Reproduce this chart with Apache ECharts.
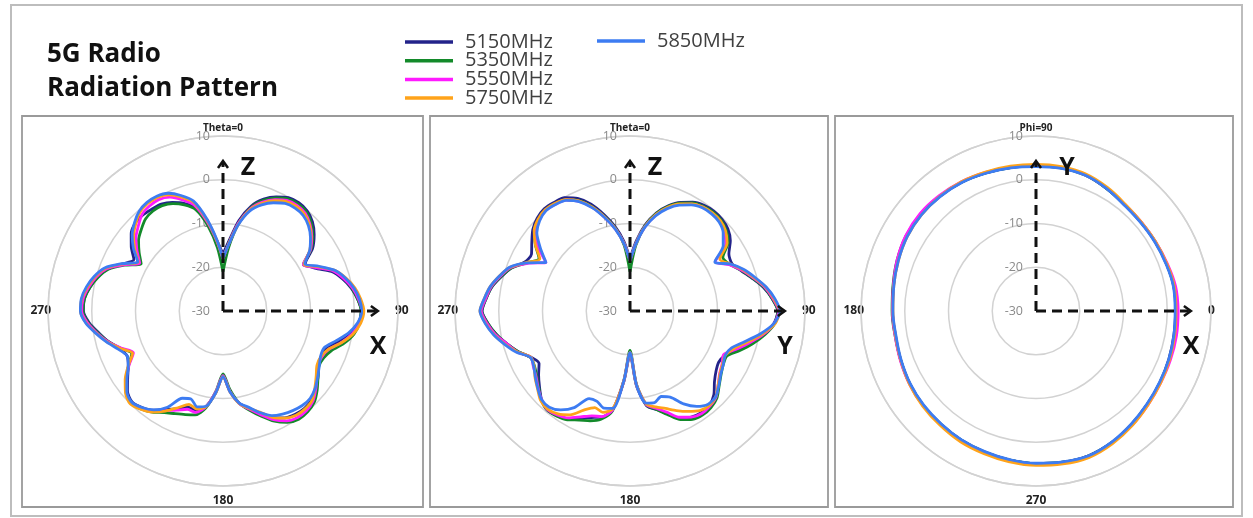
<!DOCTYPE html>
<html>
<head>
<meta charset="utf-8">
<script src="https://cdn.jsdelivr.net/npm/echarts@6/dist/echarts.min.js"></script>
<style>
html,body{margin:0;padding:0;background:#fff;}
#chart{width:1253px;height:518px;}
</style>
</head>
<body>
<div id="chart"></div>
<script>
// ---------- DATA ----------
const seriesNames = ['5150MHz', '5350MHz', '5550MHz', '5750MHz', '5850MHz'];
const seriesColors = ['#23238a', '#138a2a', '#ff1aff', '#ffa31a', '#3d7cf2'];

const panelTitles = ['Theta=0', 'Theta=0', 'Phi=90'];
const radiusTicks = [-30, -20, -10, 0, 10];

// Panel 1 (XZ cut), angles 0..360 step 5, clockwise from top
const anglesXZ = [0,5,10,15,20,25,30,35,40,45,50,55,60,65,70,75,80,85,90,95,100,105,110,115,120,125,130,135,140,145,150,155,160,165,170,175,180,185,190,195,200,205,210,215,220,225,230,235,240,245,250,255,260,265,270,275,280,285,290,295,300,305,310,315,320,325,330,335,340,345,350,355,360];
const xz5150 = [-17,-13.8,-9.0,-5.2,-2.8,-1.2,-0.1,0.2,-0.1,-1.1,-2.8,-5.0,-8.3,-6.8,-3.6,-1.7,-0.2,0.9,1.6,1.1,-0.4,-2.8,-4.8,-5.3,-4.8,-3.5,-2.3,-1.3,-1.0,-1.2,-1.8,-3.2,-5.2,-7.0,-8.6,-11.5,-15.0,-11.3,-7.9,-6.5,-6.6,-5.4,-4.0,-2.3,-1.2,-0.6,-1.5,-3.4,-5.0,-5.8,-4.8,-2.9,-1.2,0.7,1.9,1.8,0.9,-0.3,-2.0,-4.6,-6.5,-4.4,-2.6,-1.6,-1.4,-1.6,-1.8,-2.6,-3.8,-5.6,-9.6,-13.8,-17];
const xz5350 = [-21,-15.5,-9.9,-5.6,-3.1,-1.5,-0.4,-0.1,-0.4,-1.5,-3.2,-5.4,-8.8,-6.4,-3.1,-1.4,-0.1,0.9,1.6,1.3,0.4,-1.4,-3.6,-4.6,-4.7,-3.5,-1.9,-0.5,0.1,0.2,-0.6,-2.2,-4.4,-6.5,-8.6,-12.0,-15.6,-11.6,-7.5,-5.4,-4.8,-4.1,-3.2,-1.8,-0.8,-0.2,-1.1,-3.0,-5.1,-7.0,-5.1,-2.9,-1.0,0.9,2.0,1.8,0.9,-0.4,-2.1,-5.2,-8.4,-6.6,-4.8,-3.6,-2.5,-2.1,-2.2,-2.9,-4.2,-6.0,-10.2,-15.5,-21];
const xz5550 = [-18,-14.5,-9.6,-5.8,-3.5,-1.9,-0.8,-0.5,-0.8,-1.9,-3.5,-5.6,-8.8,-6.5,-3.2,-1.4,0.1,1.1,1.8,1.3,0.0,-2.0,-4.3,-5.1,-5.0,-3.8,-2.3,-0.9,-0.3,-0.3,-1.0,-2.6,-4.8,-6.8,-8.5,-11.5,-15.2,-11.5,-7.8,-6.0,-6.1,-5.0,-3.7,-2.0,-0.9,-0.2,-1.2,-3.0,-5.2,-7.4,-5.2,-2.8,-0.8,1.1,2.3,2.1,1.2,0.0,-1.7,-5.0,-8.0,-6.0,-4.0,-2.6,-1.2,-0.7,-0.6,-1.3,-3.0,-5.0,-9.3,-14.0,-18];
const xz5750 = [-18,-14.4,-9.8,-6.0,-3.8,-2.2,-1.1,-0.8,-1.1,-2.1,-3.7,-5.8,-8.6,-6.0,-2.8,-0.9,0.6,1.6,2.2,1.6,0.2,-2.0,-4.4,-5.3,-5.2,-4.0,-2.6,-1.2,-0.8,-0.9,-1.7,-3.2,-5.4,-7.0,-8.5,-11.4,-15.0,-11.2,-7.8,-6.8,-7.3,-5.6,-3.6,-1.8,-0.7,0.0,-0.9,-2.7,-5.0,-7.2,-5.0,-2.6,-0.6,1.4,2.6,2.4,1.5,0.3,-1.4,-4.6,-7.6,-5.4,-3.3,-1.8,-0.5,0.0,0.0,-0.7,-2.3,-4.3,-8.9,-13.8,-18];
const xz5850 = [-18,-14.6,-10.0,-6.3,-4.2,-2.7,-1.6,-1.3,-1.5,-2.4,-3.9,-5.8,-8.4,-5.8,-2.8,-1.0,0.4,1.3,1.7,0.9,-0.9,-3.4,-5.4,-5.4,-4.6,-3.6,-2.5,-1.8,-1.8,-2.2,-2.8,-3.6,-5.3,-7.2,-8.6,-11.4,-15.0,-11.3,-7.9,-7.3,-8.6,-8.0,-4.6,-2.4,-1.2,-0.5,-1.3,-3.2,-5.0,-5.8,-4.5,-2.5,-0.5,1.5,2.6,2.5,1.7,0.5,-1.2,-4.4,-7.5,-5.0,-2.9,-1.4,-0.2,0.3,0.3,-0.3,-1.9,-4.0,-8.6,-13.6,-18];

// Panel 2 (YZ cut), angles 0..360 step 5, clockwise from top
const anglesYZ = anglesXZ.slice();
const yz5150 = [-18,-14.0,-10.0,-6.8,-4.4,-2.6,-1.3,-0.5,-0.2,-0.3,-0.8,-2.0,-3.9,-4.3,-3.0,-1.1,1.0,2.6,3.8,3.0,0.9,-1.6,-4.0,-6.0,-6.6,-6.0,-4.8,-2.9,-1.8,-1.6,-2.0,-3.0,-5.0,-6.7,-8.0,-12.8,-20.0,-13.8,-7.0,-4.9,-4.1,-3.0,-1.6,-0.8,-0.5,-1.4,-3.0,-4.5,-6.0,-5.0,-2.8,-0.9,1.0,2.6,3.8,3.0,2.0,0.4,-1.2,-3.5,-4.0,-2.6,-1.0,0.0,0.5,0.3,-0.1,-1.6,-4.0,-7.2,-10.4,-14.0,-18];
const yz5350 = [-21,-15.0,-10.3,-7.0,-4.6,-2.8,-1.5,-0.8,-0.5,-0.6,-1.3,-2.6,-5.5,-4.8,-2.9,-1.0,1.1,2.6,3.8,3.2,1.3,-1.0,-3.4,-5.6,-5.4,-4.6,-3.4,-1.9,-1.2,-1.0,-1.4,-2.6,-4.8,-6.7,-8.1,-13.2,-21.0,-14.2,-6.8,-4.4,-3.3,-2.5,-1.3,-0.7,-0.5,-1.3,-2.8,-4.0,-4.8,-4.9,-2.8,-0.9,1.0,2.6,3.9,3.0,2.1,0.5,-1.2,-4.0,-6.0,-3.6,-1.5,-0.4,0.1,-0.1,-0.6,-2.1,-4.6,-7.7,-10.8,-15.0,-21];
const yz5550 = [-18.5,-14.5,-10.5,-7.3,-4.9,-3.1,-1.8,-1.0,-0.8,-0.9,-1.8,-3.3,-7.5,-5.0,-2.8,-0.8,1.3,2.8,4.0,3.1,0.9,-1.8,-4.3,-6.4,-5.7,-5.0,-3.7,-2.2,-1.6,-1.4,-2.0,-3.2,-5.4,-7.0,-8.2,-13.0,-20.5,-14.0,-7.0,-5.0,-4.5,-3.3,-1.8,-1.0,-0.6,-1.4,-2.6,-3.8,-4.5,-5.0,-2.6,-0.9,1.2,2.8,4.0,3.1,2.2,0.7,-1.0,-4.2,-7.8,-4.3,-1.8,-0.6,0.0,-0.2,-0.7,-2.3,-4.8,-7.9,-11.0,-14.5,-18.5];
const yz5750 = [-18.5,-14.5,-10.4,-7.2,-4.8,-3.0,-1.7,-1.0,-0.7,-0.8,-1.5,-2.9,-6.3,-4.6,-2.5,-0.6,1.5,3.0,4.2,3.3,0.6,-2.3,-4.8,-6.0,-5.6,-4.9,-3.7,-2.3,-1.8,-2.2,-3.5,-4.9,-6.3,-7.3,-8.4,-13.0,-20.5,-14.0,-7.3,-6.0,-6.5,-5.0,-2.6,-1.3,-0.7,-1.1,-2.4,-3.5,-4.7,-5.0,-2.6,-0.5,1.5,3.1,4.3,3.4,2.4,0.9,-0.8,-3.8,-6.2,-3.6,-1.4,-0.3,0.2,0.0,-0.6,-2.2,-4.7,-7.8,-10.9,-14.5,-18.5];
const yz5850 = [-18.5,-14.6,-10.6,-7.5,-5.1,-3.3,-2.0,-1.2,-1.0,-1.2,-2.2,-4.0,-7.6,-4.6,-2.3,-0.4,1.6,3.2,4.3,3.0,0.2,-2.9,-5.3,-6.0,-5.4,-4.7,-3.5,-2.3,-2.2,-3.4,-5.5,-8.3,-9.2,-8.3,-8.6,-13.0,-20.5,-14.0,-7.4,-7.0,-8.0,-7.9,-4.5,-2.4,-1.3,-1.4,-2.5,-3.6,-4.6,-4.9,-2.4,-0.4,1.6,3.2,4.3,3.4,2.4,0.9,-0.7,-4.0,-7.8,-5.0,-2.2,-0.8,-0.1,-0.3,-0.8,-2.4,-4.9,-8.0,-11.1,-14.6,-18.5];

// Panel 3 (XY cut, Phi), angles 0..360 step 10, counter-clockwise from +X
const anglesXY = [0,10,20,30,40,50,60,70,80,90,100,110,120,130,140,150,160,170,180,190,200,210,220,230,240,250,260,270,280,290,300,310,320,330,340,350,360];
const xy5150 = [1.9,2.0,1.7,1.5,1.4,1.6,2.3,3.1,3.2,3.1,3.3,3.6,4.0,4.2,4.3,4.1,3.6,3.1,2.8,2.6,2.9,3.3,3.6,3.8,4.1,4.3,4.6,4.9,5.1,5.2,4.7,3.9,3.2,2.7,2.3,2.0,1.9];
const xy5350 = [2.0,2.0,1.7,1.5,1.4,1.6,2.3,3.0,3.2,3.1,3.3,3.6,4.0,4.3,4.4,4.3,3.8,3.2,2.9,2.7,2.9,3.3,3.6,3.8,4.1,4.3,4.6,4.9,5.1,5.2,4.7,3.9,3.2,2.7,2.4,2.1,2.0];
const xy5550 = [2.5,2.4,1.9,1.6,1.5,1.7,2.4,3.1,3.3,3.2,3.4,3.7,4.1,4.4,4.6,4.4,3.8,3.1,2.8,2.7,3.0,3.4,3.7,3.9,4.2,4.4,4.7,5.0,5.2,5.3,4.8,4.1,3.4,2.9,2.7,2.6,2.5];
const xy5750 = [2.0,2.1,1.8,1.6,1.5,1.8,2.6,3.3,3.5,3.5,3.6,3.8,4.1,4.2,4.2,4.0,3.5,3.0,2.7,2.6,2.9,3.4,3.8,4.1,4.5,4.7,5.0,5.3,5.5,5.6,5.0,4.2,3.4,2.9,2.5,2.2,2.0];
const xy5850 = [1.8,1.9,1.6,1.4,1.3,1.5,2.3,3.0,3.1,3.0,3.2,3.5,3.9,4.1,4.2,4.0,3.5,3.0,2.7,2.5,2.8,3.2,3.5,3.7,4.0,4.2,4.5,4.8,5.0,5.2,4.6,3.8,3.1,2.6,2.3,2.0,1.8];

const panelAxisNames = [['Z', 'X'], ['Z', 'Y'], ['Y', 'X']];

// ---------- CHART ----------
const chart = echarts.init(document.getElementById('chart'), null, {renderer: 'canvas'});

const panels = [
  {angles: anglesXZ, values: [xz5150, xz5350, xz5550, xz5750, xz5850], center: [223, 311], clockwise: true, smooth: 0.25},
  {angles: anglesYZ, values: [yz5150, yz5350, yz5550, yz5750, yz5850], center: [630, 311], clockwise: true, smooth: 0.25},
  {angles: anglesXY, values: [xy5150, xy5350, xy5550, xy5750, xy5850], center: [1036, 311], clockwise: false, smooth: 0.4}
];

const GRID = '#d2d2d2';
const FONT = '"Open Sans", "Noto Sans", sans-serif';

function angleLabelFormatter(pi) {
  return function (v) {
    let a = ((v % 360) + 360) % 360;
    if (pi < 2 && v === 360) return '';
    if (pi === 2 && v === 450) return '';
    if (pi < 2) {
      if (a === 0) return '{t|' + panelTitles[pi] + '}';
      if (a === 180) return '{b|180}';
      if (a === 90) return '{r|90}';
      return '{l|270}';
    } else {
      if (a === 90) return '{t|' + panelTitles[pi] + '}';
      if (a === 270) return '{b|270}';
      if (a === 0) return '{r|0}';
      return '{l|180}';
    }
  };
}
const angleRich = {
  t: {fontSize: 10, fontWeight: 'bold', color: '#222', fontFamily: FONT, padding: [0, 0, 6, 0]},
  b: {fontSize: 12, fontWeight: 'bold', color: '#222', fontFamily: FONT, padding: [12, 0, 0, 0]},
  r: {fontSize: 12, fontWeight: 'bold', color: '#222', fontFamily: FONT},
  l: {fontSize: 12, fontWeight: 'bold', color: '#222', fontFamily: FONT}
};

const polar = [], angleAxis = [], radiusAxis = [], series = [];
panels.forEach((p, pi) => {
  polar.push({center: p.center, radius: 175});
  angleAxis.push({
    polarIndex: pi,
    type: 'value',
    min: pi < 2 ? 0 : 90,
    max: pi < 2 ? 360 : 450,
    interval: 90,
    startAngle: 90,
    clockwise: p.clockwise,
    axisLine: {show: true, lineStyle: {color: GRID, width: 1.5}},
    axisTick: {show: false},
    splitLine: {show: false},
    axisLabel: {show: true, margin: -3, formatter: angleLabelFormatter(pi), rich: angleRich}
  });
  radiusAxis.push({
    polarIndex: pi,
    type: 'value',
    min: radiusTicks[0],
    max: radiusTicks[radiusTicks.length - 1],
    interval: 10,
    axisLine: {show: false},
    axisTick: {show: false},
    axisLabel: {show: true, color: '#8a8a8a', fontSize: 12.5, fontFamily: FONT, margin: 13},
    splitLine: {show: true, lineStyle: {color: GRID, width: 1.5}},
    z: 1
  });
  seriesNames.forEach((name, si) => {
    const vals = p.values[si];
    series.push({
      name: name,
      type: 'line',
      coordinateSystem: 'polar',
      polarIndex: pi,
      showSymbol: false,
      symbol: 'none',
      smooth: p.smooth,
      silent: true,
      lineStyle: {color: seriesColors[si], width: 2.8},
      itemStyle: {color: seriesColors[si]},
      z: 3 + si,
      data: p.angles.map((a, k) => [vals[k], pi === 2 && a < 90 ? a + 360 : a])
    });
  });
});

const legendText = {color: '#404040', fontSize: 20, fontFamily: FONT, padding: [0, 0, 0, 7]};

const option = {
  animation: false,
  backgroundColor: '#fff',
  title: {
    text: '5G Radio\nRadiation Pattern',
    left: 42, top: 33,
    textStyle: {fontSize: 26, fontWeight: 'bold', color: '#111', fontFamily: FONT, lineHeight: 34}
  },
  legend: [
    {
      data: seriesNames.slice(0, 4), orient: 'vertical', left: 400, top: 27,
      icon: 'rect', itemWidth: 48, itemHeight: 3.5, itemGap: -1.3, textStyle: legendText,
      selectedMode: false
    },
    {
      data: seriesNames.slice(4), orient: 'vertical', left: 592, top: 26,
      icon: 'rect', itemWidth: 48, itemHeight: 3.5, itemGap: -1.3, textStyle: legendText,
      selectedMode: false
    }
  ],
  polar: polar,
  angleAxis: angleAxis,
  radiusAxis: radiusAxis,
  series: series
};
chart.setOption(option);

// ---------- frames & axis arrows (annotations) ----------
function buildGraphics() {
  const g = [];
  g.push({type: 'rect', shape: {x: 11, y: 5, width: 1231, height: 511}, style: {fill: 'none', stroke: '#bdbdbd', lineWidth: 2}, z: 0, silent: true});
  const frames = [[22, 116, 401, 391], [430, 116, 398, 391], [835, 116, 398, 391]];
  frames.forEach(f => g.push({type: 'rect', shape: {x: f[0], y: f[1], width: f[2], height: f[3]}, style: {fill: 'none', stroke: '#9a9a9a', lineWidth: 1.8}, z: 0, silent: true}));

  panels.forEach((p, pi) => {
    const upAngle = pi < 2 ? 0 : 90;
    const rightAngle = pi < 2 ? 90 : 360;
    const c = chart.convertToPixel({polarIndex: pi}, [-30, upAngle]);
    const up = chart.convertToPixel({polarIndex: pi}, [4.3, upAngle]);
    const rt = chart.convertToPixel({polarIndex: pi}, [5.4, rightAngle]);
    const dash = {stroke: '#111', lineWidth: 3, lineDash: [10, 6], fill: 'none'};
    g.push({type: 'polyline', shape: {points: [[c[0], c[1]], [up[0], up[1] + 2]]}, style: dash, z: 20, silent: true});
    g.push({type: 'polyline', shape: {points: [[c[0], c[1]], [rt[0] - 2, rt[1]]]}, style: dash, z: 20, silent: true});
    g.push({type: 'polyline', shape: {points: [[up[0] - 5, up[1] + 7], [up[0], up[1]], [up[0] + 5, up[1] + 7]]}, style: {stroke: '#111', lineWidth: 2.5, fill: 'none'}, z: 20, silent: true});
    g.push({type: 'polyline', shape: {points: [[rt[0] - 7, rt[1] - 5], [rt[0], rt[1]], [rt[0] - 7, rt[1] + 5]]}, style: {stroke: '#111', lineWidth: 2.5, fill: 'none'}, z: 20, silent: true});
    const names = panelAxisNames[pi];
    g.push({type: 'text', x: c[0] + (pi === 2 ? 31 : 25), y: c[1] - 143, style: {text: names[0], fill: '#111', font: 'bold 25px ' + FONT, textAlign: 'center', textVerticalAlign: 'middle'}, z: 21, silent: true});
    g.push({type: 'text', x: c[0] + 155, y: c[1] + 36, style: {text: names[1], fill: '#111', font: 'bold 25px ' + FONT, textAlign: 'center', textVerticalAlign: 'middle'}, z: 21, silent: true});
  });
  chart.setOption({graphic: g});
}
buildGraphics();
</script>
</body>
</html>
